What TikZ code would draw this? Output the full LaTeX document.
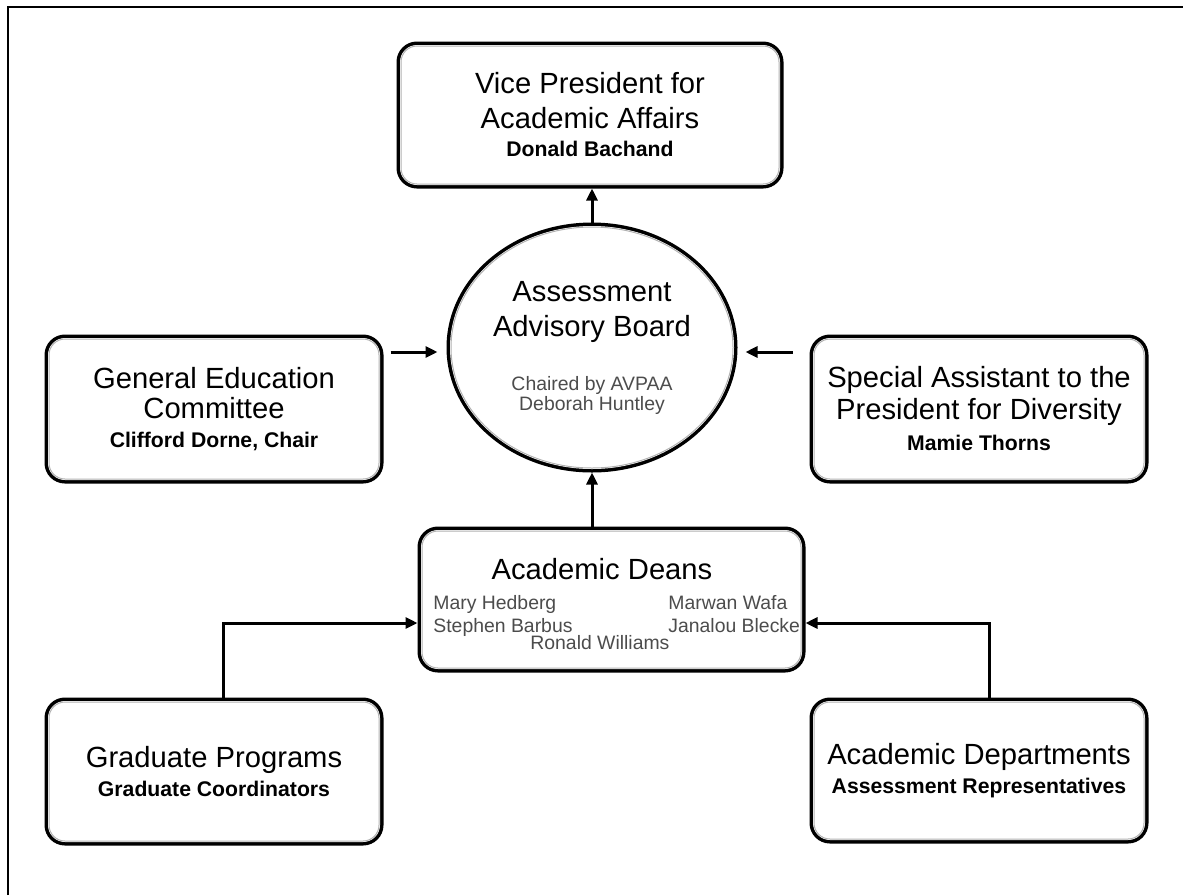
\documentclass[tikz,border=0pt]{standalone}
\usepackage{fontspec}
\setmainfont{Liberation Sans}
\usetikzlibrary{arrows.meta,positioning,shapes.geometric}

\newcommand{\titlefont}{\fontsize{14.6}{17.5}\selectfont}
\newcommand{\namefont}{\bfseries\fontsize{10.6}{13}\selectfont}
\newcommand{\notefont}{\fontsize{9.7}{12}\selectfont}

\begin{document}
\begin{tikzpicture}[
  x=0.5pt, y=-0.5pt,
  card/.style={rectangle, rounded corners=8pt, align=center, font=\titlefont,
    fill=white, draw=gray!60, line width=0.5pt, inner sep=0pt, outer sep=2.25pt,
    preaction={draw=black, line width=4.5pt},
    preaction={draw=white, line width=1pt}},
  board/.style={card, ellipse},
  arr/.style={-{Triangle[length=6pt,width=5.5pt]}, line width=1.5pt},
  dean/.style={font=\notefont, text=black!70, anchor=base west, inner sep=0pt}
]
\useasboundingbox (0,0) rectangle (1183,895);
% page frame
\draw[line width=1pt] (8,895) -- (8,7) -- (1183,7);

% boxes
\node[card, minimum width=189pt, minimum height=69pt] (vp) at (590,115)
  {Vice President for\\Academic Affairs\\[-3.5pt]{\namefont Donald Bachand}};
\node[board, minimum width=141pt, minimum height=120.5pt] (aab) at (592,347.5)
  {Assessment\\Advisory Board\\[9.5pt]{\notefont\color{black!70}Chaired by AVPAA}\\[-7.5pt]{\notefont\color{black!70}Deborah Huntley}};
\node[card, minimum width=165pt, minimum height=70pt] (gec) at (214,409)
  {General Education\\[-2.5pt]Committee\\[-3pt]{\namefont Clifford Dorne, Chair}};
\node[card, minimum width=165pt, minimum height=70pt] (spd) at (979,409)
  {Special Assistant to the\\[-1.5pt]President for Diversity\\[-2pt]{\namefont Mamie Thorns}};
\node[card, minimum width=189.5pt, minimum height=68.5pt] (deans) at (611.5,599.5) {};
\node[card, minimum width=165pt, minimum height=69.5pt] (grad) at (214,771.5)
  {Graduate Programs\\[-3pt]{\namefont Graduate Coordinators}};
\node[card, minimum width=165pt, minimum height=68.5pt] (dept) at (979,770.5)
  {Academic Departments\\[-3pt]{\namefont Assessment Representatives}};

% deans text
\node[font=\titlefont, anchor=base, inner sep=0pt] (deanstitle) at (602,579) {Academic Deans};
\node[dean] (hedberg) at (433,609) {Mary Hedberg};
\node[dean] (barbus) at (433,632) {Stephen Barbus};
\node[dean] (wafa) at (668,609) {Marwan Wafa};
\node[dean] (blecke) at (668,632) {Janalou Blecke};
\node[dean] (williams) at (530,649) {Ronald Williams};

% connectors
\draw[arr] (aab.north) -- (aab.north |- vp.south);
\draw[arr] (aab.south |- deans.north) -- (aab.south);
\draw[arr, shorten <=3.5pt, shorten >=4.5pt] ([yshift=-2.25pt]gec.east |- aab.west) -- ([yshift=-2.25pt]aab.west);
\draw[arr, shorten <=8.5pt, shorten >=4pt] ([yshift=-2.25pt]spd.west |- aab.east) -- ([yshift=-2.25pt]aab.east);
\draw[arr] ([xshift=4.5pt]grad.north) |- ([yshift=-11.75pt]deans.west);
\draw[arr] ([xshift=5pt]dept.north) |- ([yshift=-11.75pt]deans.east);
\end{tikzpicture}
\end{document}
